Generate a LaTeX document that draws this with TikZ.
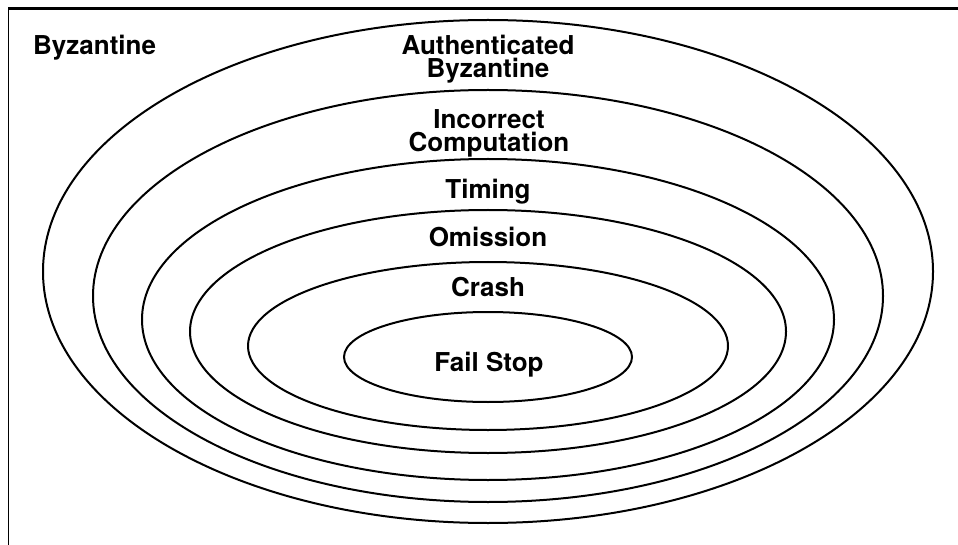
\documentclass[tikz,border=0pt]{standalone}
\usepackage{fontspec}
\setmainfont{TeX Gyre Heros}
\usetikzlibrary{positioning}

\begin{document}
\begin{tikzpicture}[x=1pt, y=-1pt,
  clase/.style={font=\fontsize{26}{23}\selectfont\bfseries, inner sep=0pt,
    anchor=base, align=center},
  borde/.style={line width=2pt},
]
\useasboundingbox (0,0) rectangle (958,545);
% marco
\draw[line width=2.6pt] (958,8.5) -- (8.5,8.5);
\draw[line width=1.8pt] (8.5,7.2) -- (8.5,545);
% elipses anidadas
\foreach \cy/\ra/\rb in {271.5/445/251.5, 296/395/206, 319.5/346/160.5,
    331.5/298/121.5, 346/240/84, 357/144/45} {
  \draw[borde] (488,\cy) ellipse [x radius=\ra pt, y radius=\rb pt];
}
\node[clase, anchor=base west] (byz) at (33,55) {Byzantine};
\node[clase] (aut) at (488,78) {Authenticated\\Byzantine};
\node[clase] (inc) at (489,152) {Incorrect\\Computation};
\node[clase] (tim) at (488,199) {Timing};
\node[clase] (omi) at (488,247) {Omission};
\node[clase] (cra) at (488,296) {Crash};
\node[clase] (fal) at (489,371) {Fail Stop};
\end{tikzpicture}
\end{document}
